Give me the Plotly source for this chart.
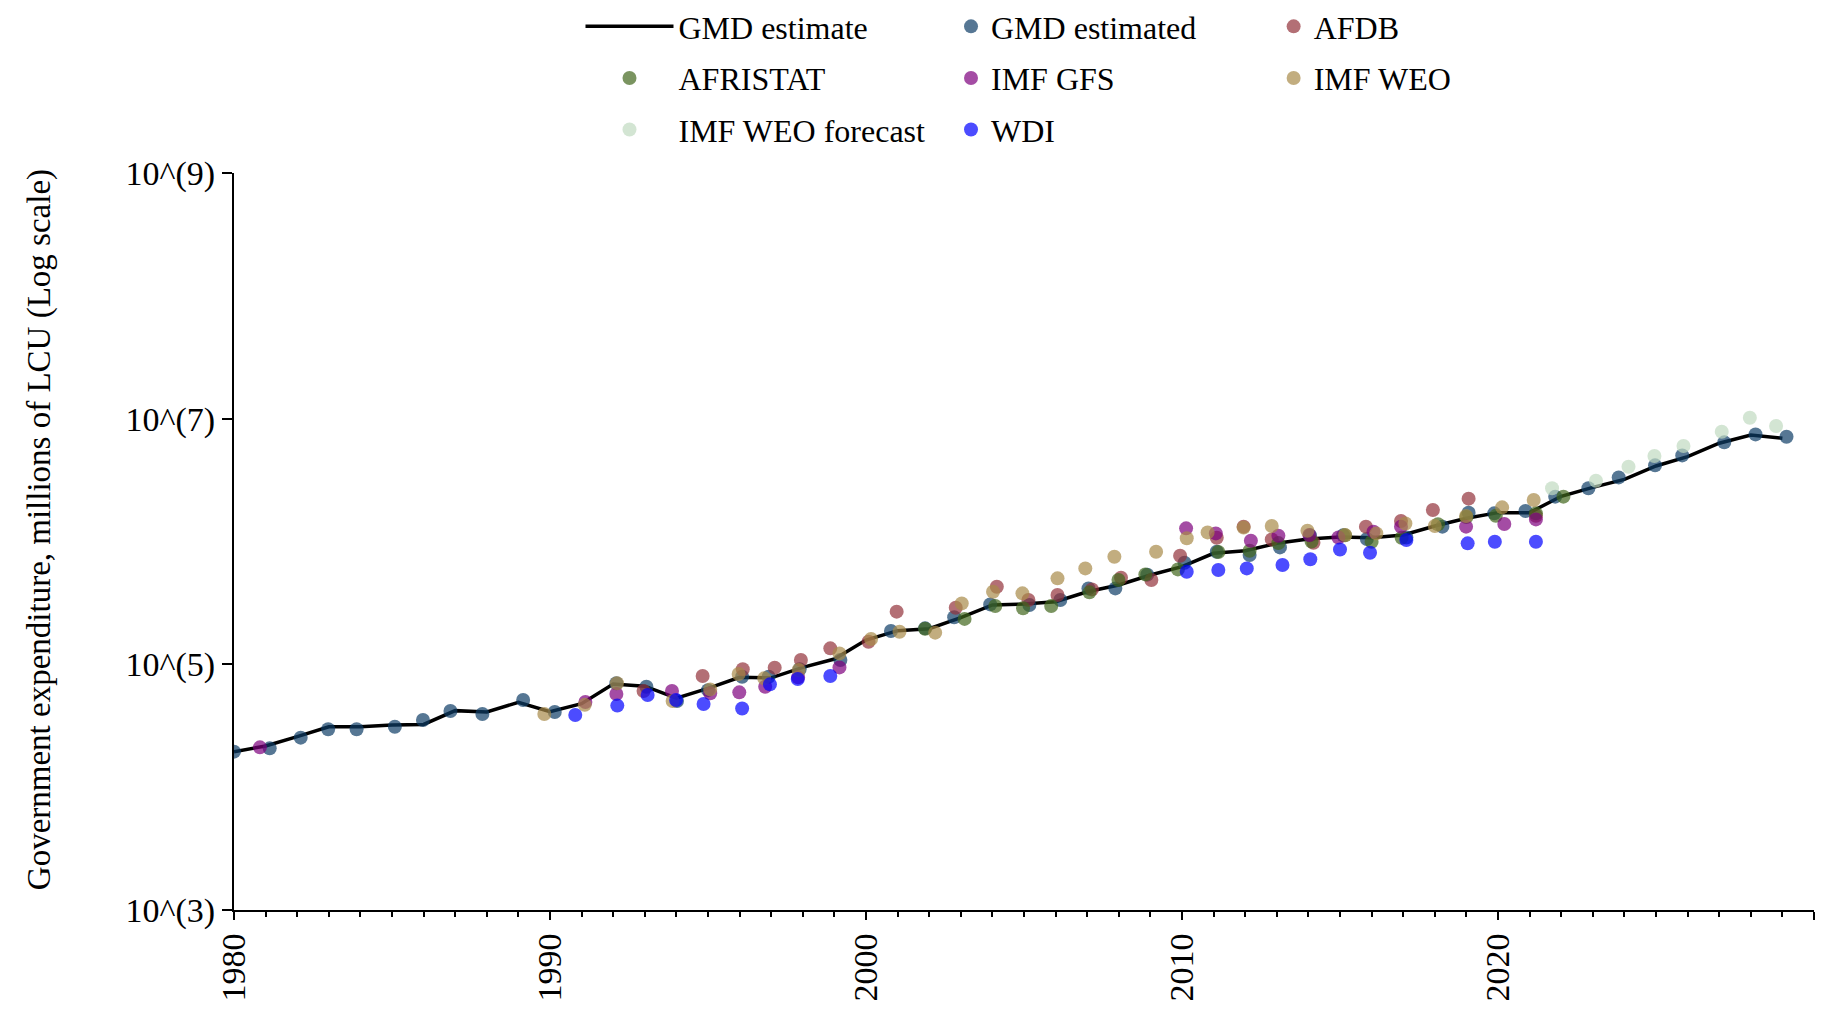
import plotly.graph_objects as go

# ---------------- data (values shown as log10 of millions of LCU) ----------------
line_years = list(range(1980, 2030))
line_log10 = [4.289, 4.335, 4.411, 4.492, 4.492, 4.506, 4.511, 4.623, 4.612, 4.691,
              4.615, 4.680, 4.840, 4.822, 4.725, 4.804, 4.894, 4.890, 4.975, 5.043,
              5.198, 5.274, 5.290, 5.380, 5.483, 5.491, 5.510, 5.591, 5.646, 5.727,
              5.795, 5.904, 5.925, 5.985, 6.020, 6.036, 6.030, 6.053, 6.126, 6.189,
              6.235, 6.235, 6.368, 6.441, 6.506, 6.615, 6.691, 6.800, 6.867, 6.840]

gmd_x = [1980.0, 1981.13, 1982.11, 1982.98, 1983.88, 1985.09, 1985.98, 1986.85, 1987.86, 1989.15,
         1990.15, 1992.10, 1993.05, 1994.02, 1995.0, 1996.08, 1996.92, 1997.9, 1999.19, 2000.79,
         2001.87, 2002.79, 2003.93, 2005.17, 2006.15, 2007.04, 2007.89, 2008.9, 2010.08, 2011.1,
         2012.14, 2013.10, 2014.05, 2015.1, 2015.85, 2017.1, 2018.24, 2019.07, 2019.88, 2020.87,
         2021.81, 2022.86, 2023.82, 2024.97, 2025.83, 2027.16, 2028.15, 2029.13]
gmd_log10 = [4.289, 4.316, 4.403, 4.471, 4.471, 4.492, 4.547, 4.620, 4.596, 4.710,
             4.612, 4.846, 4.818, 4.701, 4.790, 4.899, 4.899, 4.960, 5.035, 5.271,
             5.293, 5.383, 5.488, 5.483, 5.524, 5.618, 5.618, 5.730, 5.827, 5.917,
             5.890, 5.952, 6.050, 6.050, 6.020, 6.033, 6.121, 6.235, 6.229, 6.248,
             6.365, 6.433, 6.522, 6.620, 6.701, 6.807, 6.872, 6.853]

afdb_x = [1992.96, 1994.83, 1996.10, 1997.11, 1997.94, 1998.87, 2000.08, 2000.97, 2002.84, 2004.14,
          2005.14, 2006.06, 2007.15, 2008.07, 2009.03, 2009.94, 2011.1, 2011.95, 2012.84, 2014.16,
          2015.82, 2016.93, 2017.94, 2019.07, 2021.2]
afdb_log10 = [4.783, 4.905, 4.960, 4.973, 5.035, 5.130, 5.184, 5.429, 5.461, 5.632,
              5.524, 5.565, 5.610, 5.705, 5.687, 5.884, 6.030, 6.121, 6.017, 5.990,
              6.121, 6.167, 6.257, 6.349, 6.210]

afristat_x = [2001.87, 2003.12, 2004.09, 2004.97, 2005.86, 2007.07, 2007.99, 2008.84, 2009.87, 2011.15,
              2012.14, 2013.05, 2014.1, 2015.16, 2016.0, 2016.95, 2018.1, 2019.0, 2019.93, 2021.2,
              2022.07]
afristat_log10 = [5.290, 5.370, 5.475, 5.456, 5.475, 5.586, 5.687, 5.732, 5.773, 5.915,
                  5.925, 5.987, 6.000, 6.050, 5.998, 6.030, 6.140, 6.200, 6.209, 6.229,
                  6.365]

gfs_x = [1980.82, 1991.12, 1992.10, 1993.86, 1995.07, 1995.99, 1996.81, 1997.85, 1999.16, 2010.13,
         2011.07, 2012.18, 2013.05, 2014.03, 2014.95, 2016.06, 2016.93, 2018.99, 2020.2, 2021.2]
gfs_log10 = [4.324, 4.693, 4.758, 4.783, 4.764, 4.772, 4.818, 4.894, 4.975, 6.107,
             6.066, 6.006, 6.047, 6.053, 6.033, 6.080, 6.121, 6.121, 6.143, 6.180]

weo_x = [1989.82, 1991.1, 1992.12, 1993.88, 1995.07, 1995.97, 1996.78, 1997.87, 1999.16, 2000.16,
         2001.06, 2002.19, 2003.03, 2004.02, 2004.95, 2006.06, 2006.94, 2007.86, 2009.18, 2010.15,
         2010.81, 2011.95, 2012.84, 2013.97, 2015.16, 2016.15, 2017.07, 2018.0, 2018.99, 2020.13,
         2021.13]
weo_log10 = [4.596, 4.670, 4.846, 4.701, 4.796, 4.921, 4.886, 4.954, 5.089, 5.206,
             5.265, 5.258, 5.496, 5.591, 5.578, 5.700, 5.781, 5.876, 5.917, 6.026,
             6.074, 6.113, 6.126, 6.088, 6.053, 6.066, 6.147, 6.126, 6.208, 6.278,
             6.338]

forecast_x = [2021.71, 2023.1, 2024.13, 2024.95, 2025.87, 2027.08, 2027.97, 2028.8]
forecast_log10 = [6.433, 6.495, 6.609, 6.696, 6.778, 6.894, 7.008, 6.940]

wdi_x = [1990.8, 1992.13, 1993.09, 1993.99, 1994.86, 1996.08, 1996.96, 1997.84, 1998.87, 2010.15,
         2011.15, 2012.05, 2013.18, 2014.06, 2015.0, 2015.95, 2017.1, 2019.04, 2019.9, 2021.2]
wdi_log10 = [4.587, 4.664, 4.750, 4.710, 4.677, 4.641, 4.837, 4.881, 4.905, 5.754,
             5.768, 5.781, 5.809, 5.855, 5.935, 5.909, 6.012, 5.985, 5.998, 5.998]

y_tick_vals = [1e3, 1e5, 1e7, 1e9]
y_tick_text = ["10^(3)", "10^(5)", "10^(7)", "10^(9)"]
x_tick_vals = [1980, 1990, 2000, 2010, 2020, 2030]
x_tick_text = ["1980", "1990", "2000", "2010", "2020", "2030"]
y_title = "Government expenditure, millions of LCU (Log scale)"


def lin(vals):
    return [10 ** v for v in vals]


FONT = "Liberation Serif"
LEG_FS = 32
TICK_FS = 34
TITLE_FS = 33

fig = go.Figure()

fig.add_trace(go.Scatter(x=line_years, y=lin(line_log10), mode="lines", name="GMD estimate",
                         line=dict(color="black", width=3.5), legend="legend",
                         legendgroup="GMD estimate"))

point_series = [
    ("GMD estimated", gmd_x, gmd_log10, "#0e3d66", "legend2"),
    ("AFDB", afdb_x, afdb_log10, "#93323b", "legend3"),
    ("AFRISTAT", afristat_x, afristat_log10, "#41661c", "legend"),
    ("IMF GFS", gfs_x, gfs_log10, "#7e007e", "legend2"),
    ("IMF WEO", weo_x, weo_log10, "#a88a48", "legend3"),
    ("IMF WEO forecast", forecast_x, forecast_log10, "#c0dac0", "legend"),
    ("WDI", wdi_x, wdi_log10, "#0000ff", "legend2"),
]
for name, xs, ys, col, lg in point_series:
    fig.add_trace(go.Scatter(x=xs, y=lin(ys), mode="markers", name=name,
                             marker=dict(color=col, size=14, opacity=0.7, line=dict(width=0)),
                             legend=lg, legendgroup=name))

legend_common = dict(font=dict(family=FONT, size=LEG_FS, color="black"), bgcolor="rgba(0,0,0,0)",
                     orientation="v", yanchor="top", xanchor="left", tracegroupgap=7,
                     traceorder="grouped", y=1.236)

fig.update_layout(
    width=1821, height=997,
    margin=dict(l=225.5, r=15, t=165, b=95, autoexpand=False),
    paper_bgcolor="white", plot_bgcolor="white",
    font=dict(family=FONT, size=LEG_FS, color="black"),
    legend=dict(x=0.2193, itemwidth=88, **legend_common),
    legend2=dict(x=0.4538, itemwidth=30, **legend_common),
    legend3=dict(x=0.658, itemwidth=30, **legend_common),
    xaxis=dict(range=[1980, 2030], tickmode="array", tickvals=x_tick_vals, ticktext=x_tick_text,
               tickangle=-90, ticks="outside", ticklen=8, tickwidth=2, tickcolor="black",
               showline=True, linecolor="black", linewidth=2, showgrid=False, zeroline=False,
               minor=dict(dtick=1, tick0=1980, ticks="outside", ticklen=5, tickwidth=2,
                          tickcolor="black", showgrid=False),
               tickfont=dict(family=FONT, size=TICK_FS, color="black")),
    yaxis=dict(type="log", range=[3, 9], tickmode="array", tickvals=y_tick_vals,
               ticktext=y_tick_text, ticks="outside", ticklen=10, tickwidth=2, tickcolor="black",
               showline=True, linecolor="black", linewidth=2, showgrid=False, zeroline=False,
               tickfont=dict(family=FONT, size=TICK_FS, color="black")),
    annotations=[dict(text=y_title, textangle=-90, xref="paper", yref="paper",
                      x=-0.1233, y=0.5156, xanchor="center", yanchor="middle", showarrow=False,
                      font=dict(family=FONT, size=TITLE_FS, color="black"))],
)

fig.write_html("out.html")
